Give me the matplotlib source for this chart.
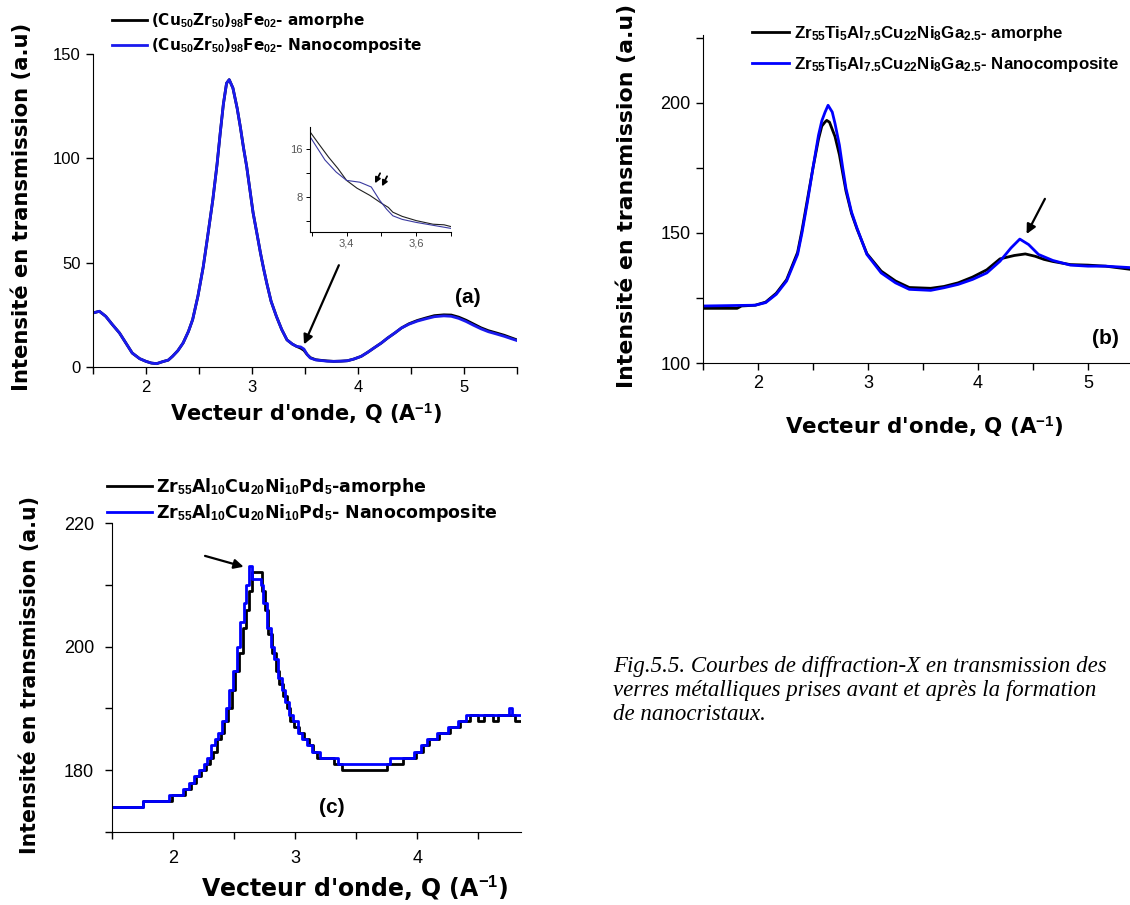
import matplotlib
matplotlib.use('Agg')
import matplotlib.pyplot as plt
from matplotlib.ticker import MultipleLocator, FixedLocator, FuncFormatter

plt.rcParams['font.family'] = ['Liberation Sans', 'DejaVu Sans']
plt.rcParams['mathtext.fontset'] = 'custom'
plt.rcParams['mathtext.rm'] = 'Liberation Sans:bold'
plt.rcParams['mathtext.it'] = 'Liberation Sans:bold'
plt.rcParams['mathtext.bf'] = 'Liberation Sans:bold'
plt.rcParams['mathtext.default'] = 'rm'

# ---- panel (a) : (Cu50Zr50)98Fe02
q_a = [1.50, 1.56, 1.62, 1.68, 1.75, 1.81, 1.87, 1.94, 2.00, 2.05, 2.10, 2.16, 2.21, 2.25,
       2.30, 2.35, 2.40, 2.44, 2.49, 2.54, 2.58, 2.63, 2.67, 2.70, 2.73, 2.76, 2.785, 2.82,
       2.86, 2.89, 2.92, 2.95, 2.98, 3.01, 3.05, 3.08, 3.11, 3.14, 3.18, 3.23, 3.28, 3.33,
       3.38, 3.42, 3.46, 3.49, 3.52, 3.55, 3.60, 3.65, 3.71, 3.77, 3.84, 3.90, 3.96, 4.03,
       4.09, 4.15, 4.22, 4.28, 4.35, 4.41, 4.48, 4.56, 4.64, 4.72, 4.81, 4.88, 4.95, 5.02,
       5.09, 5.16, 5.23, 5.30, 5.38, 5.45, 5.51]
amorph_a = [25.9, 26.7, 24.3, 20.5, 16.3, 11.5, 6.7, 4.0, 2.7, 1.9, 1.6, 2.6, 3.3, 5.1,
            7.8, 11.5, 17.0, 22.7, 34.0, 48.0, 62.0, 80.0, 97.0, 112.0, 126.0, 136.0, 137.7, 133.7,
            124.0, 115.0, 105.0, 96.0, 85.0, 74.0, 63.0, 54.6, 47.0, 40.0, 31.5, 24.3, 18.0, 13.0,
            11.0, 9.9, 9.0, 8.0, 6.0, 4.5, 3.5, 3.2, 2.9, 2.7, 2.8, 3.0, 3.8, 5.1,
            7.0, 9.1, 11.5, 13.9, 16.4, 18.7, 20.7, 22.3, 23.5, 24.6, 25.0, 24.9, 23.9, 22.4,
            20.6, 18.8, 17.4, 16.4, 15.2, 13.9, 12.8]
nano_a = [25.9, 26.7, 24.3, 20.5, 16.3, 11.5, 6.7, 4.0, 2.7, 1.9, 1.6, 2.6, 3.3, 5.1,
          7.8, 11.5, 17.0, 22.7, 34.0, 48.0, 62.0, 80.0, 97.0, 112.0, 126.0, 136.0, 137.7, 133.7,
          124.0, 115.0, 105.0, 96.0, 85.0, 74.0, 63.0, 54.6, 47.0, 40.0, 31.5, 24.3, 18.0, 13.0,
          11.0, 9.9, 9.6, 8.6, 6.0, 4.3, 3.4, 3.1, 2.8, 2.7, 2.8, 3.0, 3.8, 5.1,
          7.0, 9.1, 11.5, 13.9, 16.4, 18.7, 20.5, 22.0, 23.1, 24.1, 24.5, 24.3, 23.3, 21.8,
          20.0, 18.3, 16.9, 15.9, 14.7, 13.5, 12.5]

# inset of panel (a)
q_in_amorph = [3.295, 3.32, 3.348, 3.375, 3.40, 3.43, 3.467, 3.50, 3.52, 3.533, 3.56, 3.60, 3.648, 3.68, 3.70]
i_in_amorph = [18.9, 16.9, 14.7, 12.8, 10.8, 9.5, 8.3, 7.0, 6.3, 5.5, 4.8, 4.1, 3.5, 3.4, 3.1]
q_in_nano = [3.295, 3.338, 3.37, 3.40, 3.438, 3.471, 3.495, 3.515, 3.533, 3.56, 3.60, 3.65, 3.70]
i_in_nano = [18.1, 14.2, 12.2, 10.8, 10.5, 9.7, 7.5, 6.0, 4.9, 4.3, 3.8, 3.3, 2.8]

# ---- panel (b) : Zr55Ti5Al7.5Cu22Ni8Ga2.5
q_b_nano = [1.50, 1.975, 2.07, 2.166, 2.26, 2.36, 2.40, 2.45, 2.50, 2.55, 2.58, 2.61, 2.637,
            2.675, 2.70, 2.74, 2.77, 2.80, 2.85, 2.90, 2.99, 3.12, 3.25, 3.375, 3.57, 3.69,
            3.82, 3.95, 4.08, 4.20, 4.30, 4.38, 4.46, 4.55, 4.68, 4.84, 5.00, 5.16, 5.40]
nano_b = [121.9, 122.2, 123.2, 126.4, 131.5, 141.7, 150.0, 162.0, 175.0, 187.5, 193.0, 196.4, 199.0,
          196.4, 192.0, 183.7, 175.0, 167.0, 158.0, 151.8, 141.7, 134.6, 130.8, 128.3, 127.9, 128.9,
          130.2, 132.1, 134.6, 139.1, 144.2, 147.6, 145.5, 141.7, 139.4, 137.6, 137.2, 137.2, 136.6]
q_b_amorph = [1.50, 1.81, 1.85, 1.975, 2.07, 2.166, 2.26, 2.36, 2.40, 2.45, 2.50, 2.55, 2.58,
              2.61, 2.625, 2.65, 2.70, 2.74, 2.77, 2.80, 2.85, 2.90, 2.99, 3.12, 3.25, 3.375,
              3.57, 3.69, 3.82, 3.95, 4.08, 4.20, 4.33, 4.43, 4.52, 4.60, 4.68, 4.84, 5.00,
              5.16, 5.40]
amorph_b = [121.0, 121.0, 121.9, 122.2, 123.4, 126.8, 132.0, 142.5, 151.0, 163.0, 175.0, 186.0, 191.0,
            192.6, 193.2, 192.5, 187.0, 180.0, 173.0, 166.0, 157.5, 151.5, 142.0, 135.3, 131.5, 129.0,
            128.7, 129.4, 130.8, 133.0, 135.8, 140.0, 141.3, 141.9, 141.0, 139.8, 139.0, 137.8, 137.6,
            137.2, 135.9]

# ---- panel (c) : Zr55Al10Cu20Ni10Pd5 (step-like counts)
q_c_nano = [1.50, 1.75, 1.97, 2.08, 2.13, 2.17, 2.21, 2.25, 2.28, 2.31, 2.34, 2.37, 2.40, 2.43,
            2.46, 2.49, 2.52, 2.55, 2.58, 2.60, 2.62, 2.65, 2.72, 2.74, 2.77, 2.80, 2.83, 2.86,
            2.89, 2.92, 2.95, 2.98, 3.02, 3.06, 3.10, 3.14, 3.20, 3.35, 3.78, 3.97, 4.03, 4.08,
            4.16, 4.25, 4.33, 4.40, 4.75, 4.78, 4.85]
nano_c = [174, 175, 176, 177, 178, 179, 180, 181, 182, 184, 185, 186, 188, 190,
          193, 196, 200, 204, 207, 210, 213, 211, 210, 207, 203, 200, 198, 195,
          193, 191, 189, 188, 186, 185, 184, 183, 182, 181, 182, 183, 184, 185,
          186, 187, 188, 189, 190, 189, 189]
q_c_amorph = [1.50, 1.75, 1.99, 2.10, 2.15, 2.19, 2.23, 2.27, 2.30, 2.33, 2.36, 2.39, 2.42, 2.45,
              2.48, 2.51, 2.54, 2.57, 2.60, 2.62, 2.65, 2.73, 2.75, 2.78, 2.81, 2.84, 2.87, 2.90,
              2.93, 2.96, 2.99, 3.03, 3.07, 3.11, 3.15, 3.18, 3.32, 3.38, 3.75, 3.88, 3.99, 4.05,
              4.10, 4.18, 4.27, 4.35, 4.43, 4.50, 4.55, 4.62, 4.66, 4.80, 4.85]
amorph_c = [174, 175, 176, 177, 178, 179, 180, 181, 182, 183, 185, 186, 188, 190,
            193, 196, 199, 203, 206, 209, 212, 209, 206, 202, 199, 196, 194, 192,
            190, 188, 187, 186, 185, 184, 183, 182, 181, 180, 181, 182, 183, 184,
            185, 186, 187, 188, 189, 188, 189, 188, 189, 188, 188]

labels_a = [r'(Cu$_{50}$Zr$_{50}$)$_{98}$Fe$_{02}$- amorphe',
            r'(Cu$_{50}$Zr$_{50}$)$_{98}$Fe$_{02}$- Nanocomposite']
labels_b = [r'Zr$_{55}$Ti$_{5}$Al$_{7.5}$Cu$_{22}$Ni$_{8}$Ga$_{2.5}$- amorphe',
            r'Zr$_{55}$Ti$_{5}$Al$_{7.5}$Cu$_{22}$Ni$_{8}$Ga$_{2.5}$- Nanocomposite']
labels_c = [r'Zr$_{55}$Al$_{10}$Cu$_{20}$Ni$_{10}$Pd$_{5}$-amorphe',
            r'Zr$_{55}$Al$_{10}$Cu$_{20}$Ni$_{10}$Pd$_{5}$- Nanocomposite']

ylab = 'Intensité en transmission (a.u)'
xlab = r"Vecteur d'onde, Q (A$^{-1}$)"
caption = ['Fig.5.5. Courbes de diffraction-X en transmission des',
           'verres métalliques prises avant et après la formation',
           'de nanocristaux.']

WIDE = ['DejaVu Sans']
W, H = 1130.0, 905.0
fig = plt.figure(figsize=(11.3, 9.05), dpi=100)


def px_axes(left, top, right, bottom):
    return fig.add_axes([left / W, 1 - bottom / H, (right - left) / W, (bottom - top) / H])


def style(ax, xminor, ymajor, yminor=None, ls=12, pad=4):
    for s in ['top', 'right']:
        ax.spines[s].set_visible(False)
    ax.xaxis.set_major_locator(MultipleLocator(1))
    ax.xaxis.set_minor_locator(MultipleLocator(xminor))
    ax.yaxis.set_major_locator(MultipleLocator(ymajor))
    if yminor:
        ax.yaxis.set_minor_locator(MultipleLocator(yminor))
    ax.tick_params(which='both', direction='out', length=5, width=1, labelsize=ls, pad=pad)


def labels(ax, xl, yl, xfs, yfs):
    ax.set_xlabel(xlab, fontsize=xfs, fontweight='bold', family=WIDE)
    ax.set_ylabel(ylab, fontsize=yfs, fontweight='bold', family=WIDE)
    ax.xaxis.label.set_va('center')
    ax.yaxis.label.set_va('center')
    ax.xaxis.set_label_coords(*xl)
    ax.yaxis.set_label_coords(*yl)


def legend(ax, left, top, hl, sp, size, family):
    ax.legend(loc='upper left', bbox_to_anchor=(left / W, 1 - top / H),
              bbox_transform=fig.transFigure, frameon=False, borderpad=0,
              borderaxespad=0, handlelength=hl, handletextpad=0.25,
              labelspacing=sp, prop={'weight': 'bold', 'size': size, 'family': family})


# ---------------- (a)
ax_a = px_axes(93, 54, 517, 367)
ax_a.plot(q_a, amorph_a, color='black', lw=2, label=labels_a[0])
ax_a.plot(q_a, nano_a, color='#1a1aee', lw=2, label=labels_a[1])
ax_a.set_xlim(1.5, 5.5)
ax_a.set_ylim(0, 150)
style(ax_a, 0.5, 50)
labels(ax_a, (0.502, -0.15), (-0.1675, 0.51), 15, 15.2)
legend(ax_a, 112, 11, 2.3, 0.4, 11, WIDE)
ax_a.annotate('', xy=(3.48, 9.6), xytext=(3.83, 50),
              arrowprops=dict(arrowstyle='-|>', color='black', lw=1.6, mutation_scale=14))
ax_a.text(5.04, 33.5, '(a)', fontsize=15, fontweight='bold', ha='center', va='center')

# inset
ax_in = px_axes(310, 127, 451, 232)
ax_in.plot(q_in_amorph, i_in_amorph, color='#202020', lw=0.8)
ax_in.plot(q_in_nano, i_in_nano, color='#3a3aa0', lw=0.8)
ax_in.set_xlim(3.295, 3.70)
ax_in.set_ylim(2.2, 19.7)
for s in ['top', 'right']:
    ax_in.spines[s].set_visible(False)
for s in ['left', 'bottom']:
    ax_in.spines[s].set_linewidth(0.8)
ax_in.xaxis.set_major_locator(FixedLocator([3.4, 3.6]))
ax_in.xaxis.set_minor_locator(FixedLocator([3.3, 3.5, 3.7]))
ax_in.yaxis.set_major_locator(FixedLocator([8, 16]))
ax_in.yaxis.set_minor_locator(FixedLocator([4, 12]))
ax_in.xaxis.set_major_formatter(FuncFormatter(lambda v, p: ('%.1f' % v).replace('.', ',')))
ax_in.tick_params(which='both', direction='out', length=3, width=0.7, labelsize=8,
                  labelcolor='#555555', pad=2)
ax_in.annotate('', xy=(3.478, 9.9), xytext=(3.50, 12.4),
               arrowprops=dict(arrowstyle='-|>', color='black', lw=1.3, mutation_scale=8))
ax_in.annotate('', xy=(3.498, 9.4), xytext=(3.52, 11.9),
               arrowprops=dict(arrowstyle='-|>', color='black', lw=1.3, mutation_scale=8))

# ---------------- (b)
ax_b = px_axes(703, 35, 1143, 363)
ax_b.plot(q_b_amorph, amorph_b, color='black', lw=2, label=labels_b[0])
ax_b.plot(q_b_nano, nano_b, color='#0000ff', lw=2, label=labels_b[1])
ax_b.set_xlim(1.5, 5.5)
ax_b.set_ylim(100, 226)
style(ax_b, 0.5, 50, 25, ls=13)
labels(ax_b, (0.502, -0.195), (-0.173, 0.51), 15.4, 15.8)
legend(ax_b, 752, 24, 2.2, 0.7, 12.2, ['Liberation Sans'])
ax_b.annotate('', xy=(4.43, 148.6), xytext=(4.62, 164),
              arrowprops=dict(arrowstyle='-|>', color='black', lw=1.6, mutation_scale=14))
ax_b.text(5.16, 109.6, '(b)', fontsize=15, fontweight='bold', ha='center', va='center')

# ---------------- (c)
ax_c = px_axes(112, 523, 521, 832)
ax_c.plot(q_c_amorph, amorph_c, color='black', lw=2, drawstyle='steps-post', label=labels_c[0])
ax_c.plot(q_c_nano, nano_c, color='#0000ff', lw=2, drawstyle='steps-post', label=labels_c[1])
ax_c.set_xlim(1.5, 4.85)
ax_c.set_ylim(170, 220)
style(ax_c, 0.5, 20, 10, ls=13, pad=8)
labels(ax_c, (0.594, -0.182), (-0.2, 0.508), 17, 14.8)
legend(ax_c, 107, 476, 2.6, 0.25, 12.5, WIDE)
ax_c.annotate('', xy=(2.6, 212.8), xytext=(2.24, 214.8),
              arrowprops=dict(arrowstyle='-|>', color='black', lw=1.6, mutation_scale=14))
ax_c.text(3.30, 173.9, '(c)', fontsize=15, fontweight='bold', ha='center', va='center')

# caption
for i, line in enumerate(caption):
    fig.text(613 / W, 1 - (666 + 24 * i) / H, line, fontsize=16.5, style='italic',
             family=['Liberation Serif', 'DejaVu Serif'], ha='left', va='center')

fig.savefig('out.png', dpi=100)
